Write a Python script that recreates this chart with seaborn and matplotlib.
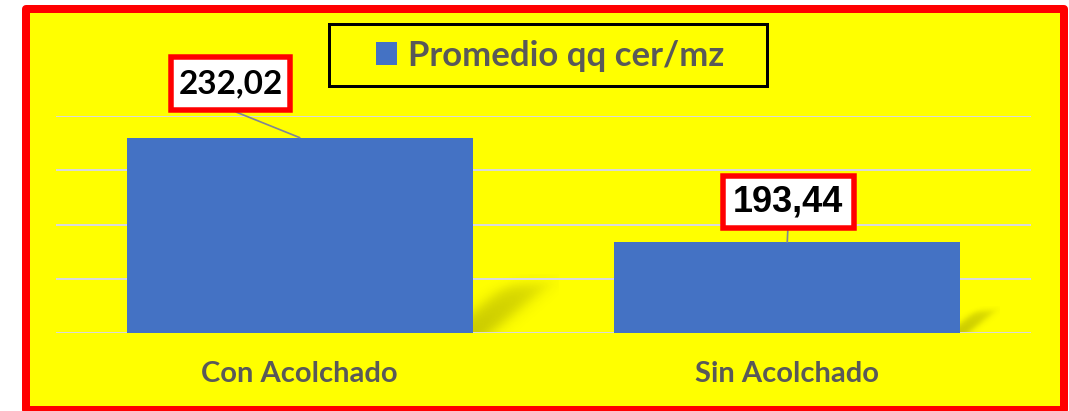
import numpy as np
import pandas as pd
import matplotlib
matplotlib.use("Agg")
import matplotlib.pyplot as plt
from matplotlib.patches import Rectangle, Patch
from matplotlib.path import Path
from matplotlib.font_manager import FontProperties
import seaborn as sns

# ---- data ----
categories = ["Con Acolchado", "Sin Acolchado"]
values = [232.02, 193.44]
value_labels = ["232,02", "193,44"]
series_name = "Promedio qq cer/mz"
y_ticks = [160, 180, 200, 220, 240]

W, H = 1069, 411
DPI = 100
BLUE = "#4472C4"
GRAY_TXT = "#595959"
YELLOW = "#FFFF00"
RED = "#FF0000"

sns.set_theme(style="white")
plt.rcParams["font.family"] = ["Lato", "DejaVu Sans"]

fig = plt.figure(figsize=(W / DPI, H / DPI), dpi=DPI)
fig.patch.set_facecolor("white")

def fx(px):
    return px / W

def fy(py):
    return 1 - py / H

# outer red frame with yellow fill
frame = Rectangle((fx(26), fy(410)), fx(1064) - fx(26), fy(9) - fy(410),
                  transform=fig.transFigure, facecolor=YELLOW, edgecolor=RED,
                  linewidth=8 * 72 / DPI, joinstyle="round", zorder=-2)
fig.patches.append(frame)

ax_l, ax_r, ax_t, ax_b = 56, 1031, 116, 333
ax = fig.add_axes([fx(ax_l), fy(ax_b), fx(ax_r) - fx(ax_l), fy(ax_t) - fy(ax_b)])
ax.set_facecolor("none")

df = pd.DataFrame({"cat": categories, "val": values})
sns.barplot(data=df, x="cat", y="val", color=BLUE, saturation=1, width=0.71,
            ax=ax, zorder=2, linewidth=0)

ax.set_ylim(y_ticks[0], y_ticks[-1])
ax.set_xlim(-0.5, len(categories) - 0.5)
ax.set_yticks(y_ticks)
ax.set_yticklabels([])
ax.tick_params(axis="y", length=0)
ax.set_axisbelow(True)
ax.yaxis.grid(True, color="#D9D9D9", linewidth=2 * 72 / DPI)
ax.xaxis.grid(False)
for s in ax.spines.values():
    s.set_visible(False)
ax.set_xlabel("")
ax.set_ylabel("")

cat_fp = FontProperties(family="Lato", weight="bold", size=21)
ax.set_xticks(range(len(categories)))
ax.set_xticklabels(categories, fontproperties=cat_fp, color=GRAY_TXT)
ax.tick_params(axis="x", length=0, pad=20)

# soft perspective shadows at the right of each bar base
px_per_x = (ax_r - ax_l) / (len(categories))
px_per_y = (ax_b - ax_t) / (y_ticks[-1] - y_ticks[0])
base = y_ticks[0]

def sig(z):
    return 1 / (1 + np.exp(-z))

for p in list(ax.patches):
    x_right = p.get_x() + p.get_width()
    top_val = p.get_y() + p.get_height()
    h_px = (top_val - base) * px_per_y
    k = h_px / 195.0
    w_px, sh_px = 85 * k, 58 * k
    nx, ny = 140, 100
    xx, zz = np.meshgrid(np.linspace(0, w_px, nx), np.linspace(0, sh_px, ny))
    b = 6 * k
    right = 17 * k + 1.2 * zz
    left = -25 * k + 1.2 * zz
    alpha = (0.27 * sig((right - xx) / b) * sig((xx - left) / b)
             * sig((48 * k - zz) / (4 * k)) * (1 - 0.35 * zz / sh_px))
    img = np.zeros((ny, nx, 4))
    img[..., 0] = 0.2
    img[..., 1] = 0.2
    img[..., 3] = alpha
    ax.imshow(img, extent=[x_right, x_right + w_px / px_per_x, base, base + sh_px / px_per_y],
              origin="lower", aspect="auto", zorder=0.4, interpolation="bilinear")
ax.set_xlim(-0.5, len(categories) - 0.5)
ax.set_ylim(y_ticks[0], y_ticks[-1])

# fixed-size label boxes (width, height in pixels)
def make_box(bw, bh):
    def box(x0, y0, width, height, mutation_size):
        cx, cy = x0 + width / 2, y0 + height / 2
        return Path.unit_rectangle().transformed(
            matplotlib.transforms.Affine2D().scale(bw, bh).translate(cx - bw / 2, cy - bh / 2))
    return box

lab_fonts = [FontProperties(family="Lato", weight="bold", size=24),
             FontProperties(family="Liberation Sans", weight="bold", size=26)]
offsets = [(-69, 54), (1, 40)]
relpos = [(0.22, 0.0), (0.5, 0.0)]
box_sizes = [(119, 53), (131, 52)]
for i, (v, lab) in enumerate(zip(values, value_labels)):
    ax.annotate(lab, xy=(i, v), xytext=offsets[i], textcoords="offset pixels",
                ha="center", va="center", fontproperties=lab_fonts[i], color="black",
                bbox=dict(boxstyle=make_box(*box_sizes[i]), facecolor="white",
                          edgecolor=RED, linewidth=5.5 * 72 / DPI),
                arrowprops=dict(arrowstyle="-", color="#7F8595", lw=1.2,
                                shrinkA=0, shrinkB=0, relpos=relpos[i]),
                annotation_clip=False, zorder=5)

# legend with a black frame
fig.patches.append(Rectangle((fx(328.5), fy(86.5)), fx(766.5) - fx(328.5), fy(24.5) - fy(86.5),
                             transform=fig.transFigure, facecolor=YELLOW, edgecolor="black",
                             linewidth=3 * 72 / DPI, zorder=-1))
leg_fp = FontProperties(family="Lato", weight="bold", size=25)
leg = fig.legend(handles=[Patch(facecolor=BLUE, edgecolor="none", label=series_name)],
                 loc="center", bbox_to_anchor=(fx(550), fy(55.5)), frameon=False,
                 prop=leg_fp, labelcolor=GRAY_TXT, handlelength=0.62, handleheight=0.62,
                 handletextpad=0.32, borderpad=0, borderaxespad=0)

fig.savefig("out.png", dpi=DPI, facecolor=fig.get_facecolor())
